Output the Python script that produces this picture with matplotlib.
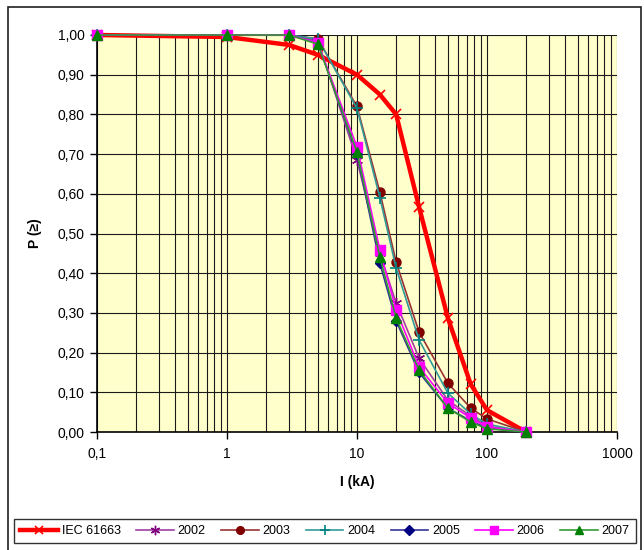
import matplotlib
matplotlib.use("Agg")
import matplotlib.pyplot as plt
from matplotlib.ticker import FixedLocator, FuncFormatter, NullFormatter
from matplotlib.patches import Rectangle

plt.rcParams['font.family'] = ['Liberation Sans', 'DejaVu Sans']

# ---- data ----
current_ka = [0.1, 1, 3, 5, 10, 15, 20, 30, 50, 75, 100, 200]
iec_61663 = [1.00, 0.995, 0.975, 0.95, 0.90, 0.85, 0.80, 0.567, 0.287, 0.12, 0.055, 0.0]
y2002 = [1.0, 1.0, 1.0, 0.985, 0.685, 0.45, 0.325, 0.186, 0.08, 0.04, 0.015, 0.0]
y2003 = [1.0, 1.0, 1.0, 0.99, 0.82, 0.604, 0.428, 0.252, 0.123, 0.06, 0.033, 0.0]
y2004 = [1.0, 1.0, 1.0, 0.99, 0.815, 0.59, 0.413, 0.232, 0.098, 0.045, 0.02, 0.0]
y2005 = [1.0, 1.0, 1.0, 0.98, 0.70, 0.425, 0.28, 0.15, 0.06, 0.028, 0.01, 0.0]
y2006 = [1.0, 1.0, 1.0, 0.98, 0.718, 0.458, 0.307, 0.164, 0.073, 0.035, 0.013, 0.0]
y2007 = [1.0, 1.0, 1.0, 0.977, 0.705, 0.44, 0.287, 0.156, 0.06, 0.025, 0.008, 0.0]

series_labels = ['IEC 61663', '2002', '2003', '2004', '2005', '2006', '2007']
x_ticks = [0.1, 1, 10, 100, 1000]
x_tick_labels = ['0,1', '1', '10', '100', '1000']

fig = plt.figure(figsize=(6.44, 5.5), dpi=100)
ax = fig.add_axes([97/644, 1-432/550, (617-97)/644, (432-35)/550])
ax.set_facecolor('#FFFFCC')

# outer chart border
fig.patches.append(Rectangle((8/644, -0.01), (641-8)/644, 1-7/550+0.01,
                             transform=fig.transFigure, fill=False,
                             edgecolor='#202020', linewidth=1.2))

ax.set_xscale('log')
ax.set_xlim(0.1, 1000)
ax.set_ylim(0, 1.0)

# grid
minor = [m*10**e for e in range(-1, 3) for m in range(2, 10)]
for v in minor + x_ticks:
    ax.axvline(v, color='#1a1a1a', lw=0.8, zorder=1)
for k in range(1, 11):
    ax.axhline(k/10, color='#1a1a1a', lw=0.8, zorder=1)

styles = [
    dict(color='#FF0000', lw=3.2, marker='x', ms=7, mec='#FF0000', mew=1.2),
    dict(color='#A040A0', lw=1.2, marker=(6, 2, 0), ms=8, mec='#800080', mew=1.0),
    dict(color='#993333', lw=1.2, marker='o', ms=6.5, mfc='#800000', mec='#800000'),
    dict(color='#339999', lw=1.2, marker='+', ms=9, mec='#008080', mew=1.2),
    dict(color='#333399', lw=1.2, marker='D', ms=5.5, mfc='#000080', mec='#000080'),
    dict(color='#FF00FF', lw=1.2, marker='s', ms=6.5, mfc='#FF00FF', mec='#FF00FF'),
    dict(color='#339933', lw=1.2, marker='^', ms=7.5, mfc='#008000', mec='#008000'),
]
data = [iec_61663, y2002, y2003, y2004, y2005, y2006, y2007]
for lab, ys, st in zip(series_labels, data, styles):
    ax.plot(current_ka, ys, label=lab, zorder=3, clip_on=False, **st)

# ticks
ax.xaxis.set_major_locator(FixedLocator(x_ticks))
ax.xaxis.set_minor_locator(FixedLocator([]))
ax.xaxis.set_major_formatter(FuncFormatter(lambda v, p: x_tick_labels[x_ticks.index(v)] if v in x_ticks else ''))
ax.xaxis.set_minor_formatter(NullFormatter())
ax.set_yticks([k/10 for k in range(11)])
ax.yaxis.set_major_formatter(FuncFormatter(lambda v, p: f"{v:.2f}".replace('.', ',')))
ax.tick_params(axis='both', which='major', direction='out', length=5, width=1,
               color='black', labelsize=10, pad=4)
ax.tick_params(axis='x', pad=6)

for s in ['left', 'bottom']:
    ax.spines[s].set_color('black')
    ax.spines[s].set_linewidth(1.2)
for s in ['top', 'right']:
    ax.spines[s].set_visible(False)

ax.set_xlabel('I (kA)', fontsize=10, fontweight='bold', labelpad=10)
ax.set_ylabel('P (≥)', fontsize=10, fontweight='bold', labelpad=11)

leg = fig.legend(loc='center', bbox_to_anchor=(0.5046, 1-531/550), ncol=7,
                 fontsize=9, frameon=True, fancybox=False, edgecolor='black',
                 handlelength=3.0, handletextpad=0.3, columnspacing=1.25,
                 borderpad=0.5, borderaxespad=0, markerscale=0.85)
leg.get_frame().set_linewidth(1.0)

fig.savefig('out.png', dpi=100)
